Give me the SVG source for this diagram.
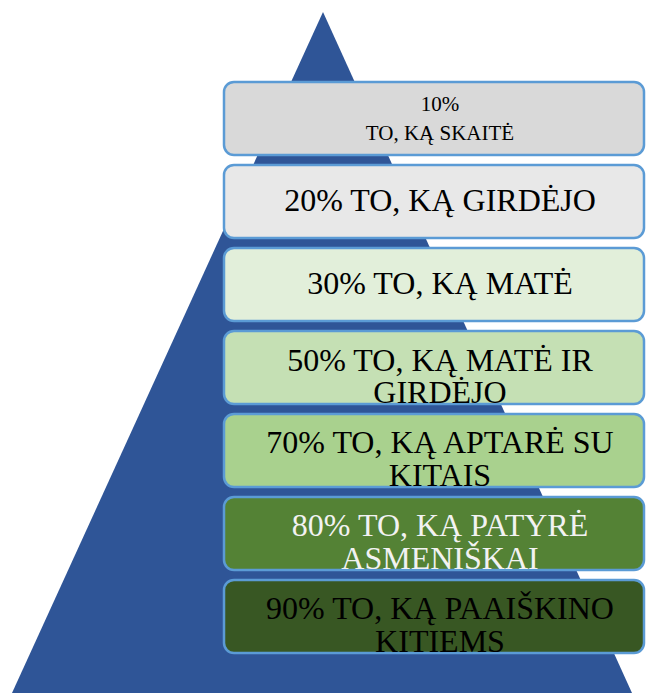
<svg xmlns="http://www.w3.org/2000/svg" width="646" height="693" viewBox="0 0 646 693">
<style>
.box{stroke:#5b9bd5;stroke-width:2.5}
text{font-family:"Liberation Serif","Times New Roman","DejaVu Serif",serif;font-size:32px;text-anchor:middle;fill:#000}
text.s{font-size:21px}
text.w{fill:#f2f2f2}
</style>
<rect x="0" y="0" width="646" height="693" fill="#fff"/>
<polygon id="pyramid" points="323,12 632,693 12,693" fill="#2f5597"/>
<g id="level1"><rect class="box" x="224" y="82" width="420" height="73" rx="10" fill="#d9d9d9"/><text class="s" x="440" y="111" font-family="Liberation Serif, serif">10%</text><text class="s" x="440" y="140" font-family="Liberation Serif, serif">TO, KĄ SKAITĖ</text></g>
<g id="level2"><rect class="box" x="224" y="165" width="420" height="73" rx="10" fill="#e8e8e8"/><text x="440" y="211" font-family="Liberation Serif, serif">20% TO, KĄ GIRDĖJO</text></g>
<g id="level3"><rect class="box" x="224" y="248" width="420" height="73" rx="10" fill="#e2efda"/><text x="440" y="294" font-family="Liberation Serif, serif">30% TO, KĄ MATĖ</text></g>
<g id="level4"><rect class="box" x="224" y="331" width="420" height="73" rx="10" fill="#c5e0b4"/><text x="440" y="371" font-family="Liberation Serif, serif">50% TO, KĄ MATĖ IR</text><text x="440" y="403" font-family="Liberation Serif, serif">GIRDĖJO</text></g>
<g id="level5"><rect class="box" x="224" y="414" width="420" height="73" rx="10" fill="#a9d18e"/><text x="440" y="453" font-family="Liberation Serif, serif">70% TO, KĄ APTARĖ SU</text><text x="440" y="486" font-family="Liberation Serif, serif">KITAIS</text></g>
<g id="level6"><rect class="box" x="224" y="497" width="420" height="73" rx="10" fill="#548235"/><text class="w" x="440" y="536" font-family="Liberation Serif, serif">80% TO, KĄ PATYRĖ</text><text class="w" x="440" y="569" font-family="Liberation Serif, serif">ASMENIŠKAI</text></g>
<g id="level7"><rect class="box" x="224" y="580" width="420" height="73" rx="10" fill="#385723"/><text x="440" y="619" font-family="Liberation Serif, serif">90% TO, KĄ PAAIŠKINO</text><text x="440" y="652" font-family="Liberation Serif, serif">KITIEMS</text></g>
<g id="connectors"/>
</svg>
